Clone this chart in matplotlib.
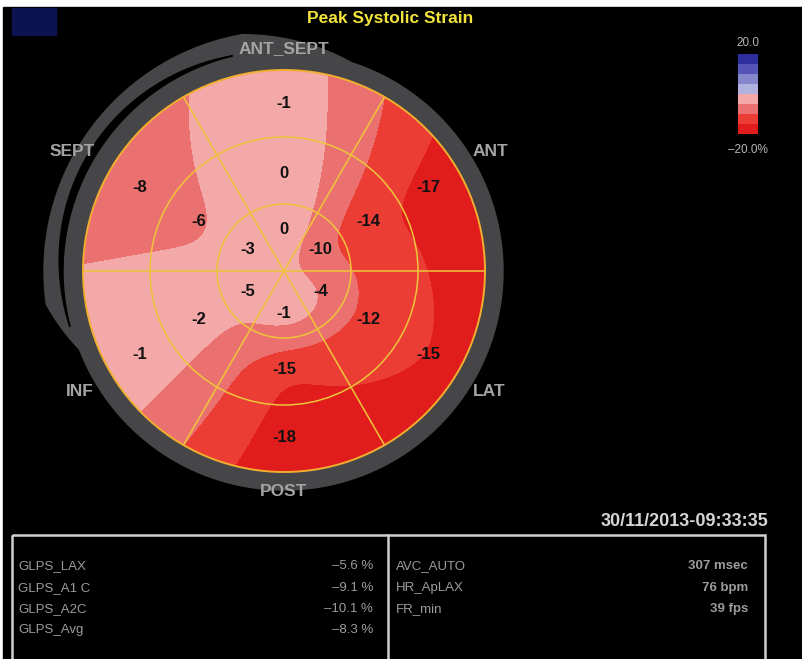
import numpy as np
import matplotlib.pyplot as plt
from matplotlib.colors import ListedColormap, BoundaryNorm
from matplotlib.cm import ScalarMappable
from matplotlib.patches import Circle, Rectangle, Polygon

W, H = 803, 659
CX, CY, R = 284, 271, 201

# 18-segment bullseye, sectors listed clockwise from the top
SECTORS = ["ANT_SEPT", "ANT", "LAT", "POST", "INF", "SEPT"]
SECTOR_ANGLES = [90, 30, -30, -90, -150, 150]
BASAL = [-1, -17, -15, -18, -1, -8]
MID = [0, -14, -12, -15, -2, -6]
APICAL = [0, -10, -4, -1, -5, -3]

LEVELS = [-20, -15, -10, -5, 0, 5, 10, 15, 20]
LEVEL_COLORS = ["#E01C1C", "#EC3D35", "#EB7170", "#F4A9A9",
                "#B2B2E0", "#8686CC", "#5454B6", "#2E2E9E"]

GLPS_NAMES = ["GLPS_LAX", "GLPS_A1 C", "GLPS_A2C", "GLPS_Avg"]
GLPS_VALUES = [-5.6, -9.1, -10.1, -8.3]
INFO_NAMES = ["AVC_AUTO", "HR_ApLAX", "FR_min"]
INFO_VALUES = ["307 msec", "76 bpm", "39 fps"]

BOLD = dict(family=["Liberation Sans", "DejaVu Sans"], fontweight="bold")
NARROW = dict(family=["Liberation Sans Narrow", "Liberation Sans", "DejaVu Sans"])


def polar_xy(r, ang_deg):
    a = np.deg2rad(ang_deg)
    return CX + r * np.cos(a), CY - r * np.sin(a)


def ring_profile(vals, ang):
    # periodic linear interpolation between sector centres
    a = np.array(SECTOR_ANGLES) % 360
    order = np.argsort(a)
    return np.interp(ang % 360, a[order], np.array(vals, float)[order], period=360)


def blur(z, s):
    k = np.arange(-int(4 * s), int(4 * s) + 1)
    k = np.exp(-k ** 2 / (2 * s ** 2))
    k /= k.sum()
    n = len(k) // 2
    zp = np.pad(z, n, mode="edge")
    zp = np.apply_along_axis(lambda v: np.convolve(v, k, mode="same"), 0, zp)
    zp = np.apply_along_axis(lambda v: np.convolve(v, k, mode="same"), 1, zp)
    return zp[n:-n, n:-n]


fig = plt.figure(figsize=(W / 100, H / 100), dpi=100, facecolor="white")
ax = fig.add_axes([0, 0, 1, 1])
ax.set_xlim(0, W)
ax.set_ylim(H, 0)
ax.axis("off")

ax.add_patch(Rectangle((3, 7), W - 3, H - 7, color="black", zorder=0))
ax.add_patch(Rectangle((12, 8), 44, 27, color="#0B1450", zorder=1))

ax.text(390, 18, "Peak Systolic Strain", color="#F2E33A", fontsize=12.5,
        ha="center", va="center", **BOLD)

# grey rim around the bullseye, with the detached outer arc on the left
th = np.linspace(0, 360, 1441)
thw = np.where(th > 270, th - 360, th)
bump = np.clip(np.minimum((thw - 72) / 28, (201 - thw) / 13), 0, 1)
r_out = 219 + 21 * bump
gap = np.where((thw > 102) & (thw < 196), 7 * np.sin(np.pi * (thw - 102) / 94), 0)
ox, oy = polar_xy(r_out, th)
ax.add_patch(Polygon(np.column_stack([ox, oy]), closed=True, color="#464648", zorder=1))
sel = gap > 0.3
g_in_x, g_in_y = polar_xy(221, th[sel])
g_out_x, g_out_y = polar_xy(221 + gap[sel], th[sel])
ax.add_patch(Polygon(np.column_stack([np.r_[g_in_x, g_out_x[::-1]],
                                      np.r_[g_in_y, g_out_y[::-1]]]),
                     closed=True, color="black", zorder=2))

# strain map: angular interpolation inside each ring, linear across rings
RING_R = [42, 98, 167]
pad = 30
gx = np.linspace(CX - R - pad, CX + R + pad, 480)
gy = np.linspace(CY - R - pad, CY + R + pad, 480)
GX, GY = np.meshgrid(gx, gy)
rr = np.hypot(GX - CX, CY - GY)
aa = np.degrees(np.arctan2(CY - GY, GX - CX))
fa, fm, fb = (ring_profile(v, aa) for v in (APICAL, MID, BASAL))
f0 = np.mean(APICAL)
Z = np.where(rr < RING_R[0], f0 + (fa - f0) * rr / RING_R[0],
    np.where(rr < RING_R[1], fa + (fm - fa) * (rr - RING_R[0]) / (RING_R[1] - RING_R[0]),
             fm + (fb - fm) * (rr - RING_R[1]) / (RING_R[2] - RING_R[1])))
Z = blur(Z, 15 / (gx[1] - gx[0]))

cmap = ListedColormap(LEVEL_COLORS)
norm = BoundaryNorm(LEVELS, cmap.N)
cs = ax.contourf(GX, GY, Z, levels=LEVELS, colors=LEVEL_COLORS, zorder=3)
cs.set_clip_path(Circle((CX, CY), R, transform=ax.transData))

# segment grid
line_col = "#EEC53A"
for ang in (0, 60, 120):
    x0, y0 = polar_xy(R, ang)
    x1, y1 = polar_xy(R, ang + 180)
    ax.plot([x0, x1], [y0, y1], color=line_col, lw=1.1, zorder=4)
for rad in (R / 3, 2 * R / 3):
    ax.add_patch(Circle((CX, CY), rad, fill=False, ec=line_col, lw=1.1, zorder=4))
ax.add_patch(Circle((CX, CY), R, fill=False, ec="#F2AE2E", lw=1.4, zorder=4))

# segment values
lab_r = {"basal": 167, "mid": 98, "apical": 42}
for ring, vals in (("basal", BASAL), ("mid", MID), ("apical", APICAL)):
    for ang, v in zip(SECTOR_ANGLES, vals):
        x, y = polar_xy(lab_r[ring], ang)
        ax.text(x, y, f"{v:d}", color="#111111", fontsize=12,
                ha="center", va="center", zorder=5, **BOLD)

# wall names around the rim
name_pos = {"ANT_SEPT": (284, 49), "ANT": (490, 151), "LAT": (489, 391),
            "POST": (284, 492), "INF": (80, 391), "SEPT": (72, 151)}
for name in SECTORS:
    x, y = name_pos[name]
    ax.text(x, y, name, color="#A4A4A4", fontsize=12.5, ha="center",
            va="center", zorder=6, **BOLD)

# colour scale
cax = fig.add_axes([738 / W, 1 - 134 / H, 20 / W, 80 / H])
cb = fig.colorbar(ScalarMappable(norm=norm, cmap=cmap), cax=cax)
cb.outline.set_visible(False)
cax.set_yticks([])
ax.text(748, 43, "20.0", color="#B4B4B4", fontsize=8.5, ha="center", va="center",
        family=["Liberation Sans", "DejaVu Sans"])
ax.text(748, 150, "\u201320.0%", color="#B4B4B4", fontsize=8.5, ha="center",
        va="center", family=["Liberation Sans", "DejaVu Sans"])

ax.text(768, 521, "30/11/2013-09:33:35", color="#D5D5D5", fontsize=13,
        ha="right", va="center", **BOLD)

# measurement table
tcol = "#CFCFCF"
ax.add_patch(Rectangle((12, 535), 753, 140, fill=False, ec=tcol, lw=1.8, zorder=2))
ax.plot([388, 388], [535, H], color=tcol, lw=1.8, zorder=2)
row_y = [566, 588, 609, 630]
txt = "#9C9C9C"
for y, name, val in zip(row_y, GLPS_NAMES, GLPS_VALUES):
    ax.text(18, y, name, color=txt, fontsize=9.5, ha="left", va="center", **NARROW)
    ax.text(373, y, f"\u2013{abs(val):.1f} %", color=txt, fontsize=9.5,
            ha="right", va="center", **NARROW)
for y, name, val in zip(row_y, INFO_NAMES, INFO_VALUES):
    ax.text(396, y, name, color=txt, fontsize=9.5, ha="left", va="center", **NARROW)
    ax.text(748, y, val, color=txt, fontsize=9.5, ha="right", va="center",
            fontweight="bold", **NARROW)

fig.savefig("out.png", dpi=100, facecolor=fig.get_facecolor())
